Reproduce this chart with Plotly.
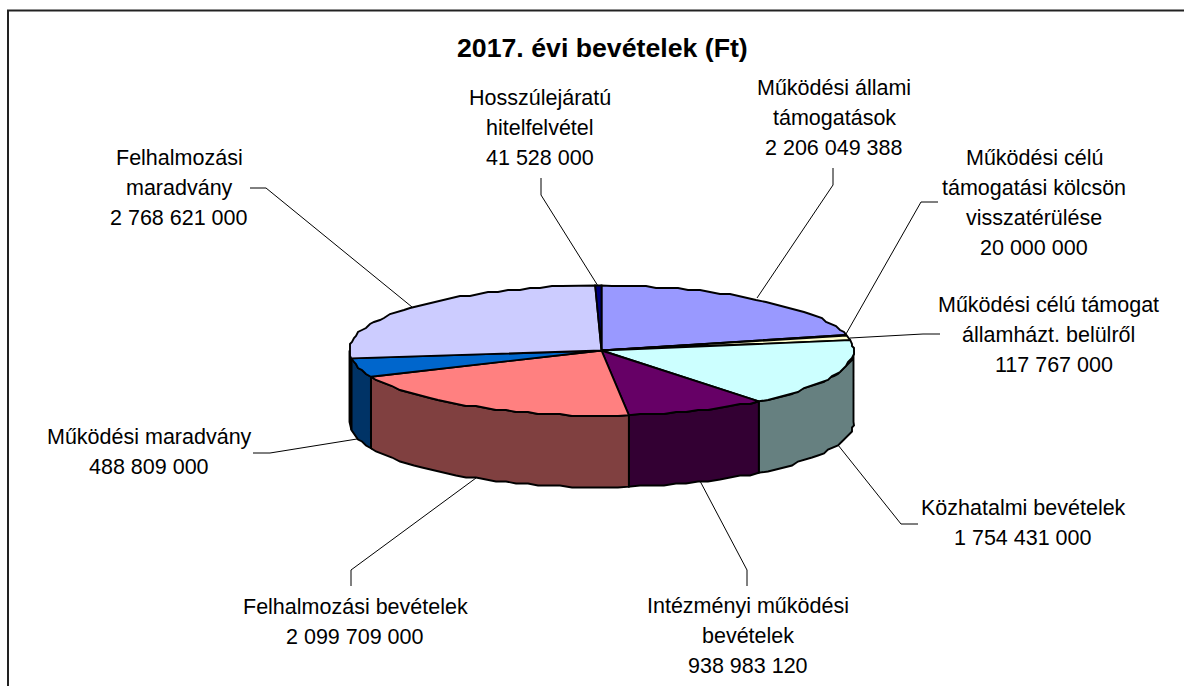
import numpy as np
import plotly.graph_objects as go

# ---------- Data ----------
LABELS = ['Működési állami támogatások', 'Működési célú támogatási kölcsön visszatérülése',
          'Működési célú támogat államházt. belülről', 'Közhatalmi bevételek',
          'Intézményi működési bevételek', 'Felhalmozási bevételek', 'Működési maradvány',
          'Felhalmozási maradvány', 'Hosszúlejáratú hitelfelvétel']
VALUES = [2206049388, 20000000, 117767000, 1754431000, 938983120,
          2099709000, 488809000, 2768621000, 41528000]
VALUE_TEXT = ['2 206 049 388', '20 000 000', '117 767 000', '1 754 431 000', '938 983 120',
              '2 099 709 000', '488 809 000', '2 768 621 000', '41 528 000']
TOP_COLORS = ['#9999FF', '#993366', '#FFFFCC', '#CCFFFF', '#660066',
              '#FF8080', '#0066CC', '#CCCCFF', '#000080']
SIDE_COLORS = ['#4D4D80', '#4D1A33', '#808066', '#668080', '#330033',
               '#804040', '#003366', '#666680', '#000040']

# ---------- Layout (page pixels) ----------
W, H = 1184, 686
CX, CY, RX, RY, DEPTH = 601.5, 350.5, 252, 65, 71.5
LINE = 1.9
SNAP = 2  # the rim in the original is visibly stair-stepped
FONT = 'Liberation Sans, Arial, sans-serif'
TEXT_SIZE = 21.5
LINE_GAP = 30

# label lines: (centre x, first line y, lines)
LABEL_TEXT = [
    (834, 87.5, ['Működési állami', 'támogatások', VALUE_TEXT[0]]),
    (1034, 157.5, ['Működési célú', 'támogatási kölcsön', 'visszatérülése', VALUE_TEXT[1]]),
    (1048, 304.5, ['Működési célú támogat', 'államházt. belülről', '  ' + VALUE_TEXT[2]]),
    (1023, 507.5, ['Közhatalmi bevételek', VALUE_TEXT[3]]),
    (748, 605.5, ['Intézményi működési', 'bevételek', VALUE_TEXT[4]]),
    (355, 606.5, ['Felhalmozási bevételek', VALUE_TEXT[5]]),
    (149, 436.5, ['Működési maradvány', VALUE_TEXT[6]]),
    (179, 157.5, ['Felhalmozási', 'maradvány', VALUE_TEXT[7]]),
    (540, 97.5, ['Hosszúlejáratú', 'hitelfelvétel', VALUE_TEXT[8]]),
]
LEADERS = [
    [(833, 168), (833, 185), (757, 298)],
    [(938, 202), (921, 202), (846, 334)],
    [(940, 334), (923, 334), (850, 338)],
    [(918, 524), (901, 524), (838, 445)],
    [(747, 586), (747, 570), (700, 481)],
    [(351, 586), (351, 570), (476, 478)],
    [(253, 453), (270, 453), (357, 439)],
    [(250, 188), (266, 188), (412, 307)],
    [(541, 178), (541, 195), (598, 286)],
]


def arc(a0, a1):
    """Points of the top ellipse between two clockwise angles (degrees from 12 o'clock)."""
    t = np.radians(np.linspace(a0, a1, max(2, int(abs(a1 - a0) / 2.5) + 1)))
    x, y = CX + RX * np.sin(t), CY - RY * np.cos(t)
    # snap the inner points only, so slice corners stay where the values put them
    x[1:-1] = np.round(x[1:-1] / SNAP) * SNAP
    y[1:-1] = np.round(y[1:-1] / SNAP) * SNAP
    return x, y


fig = go.Figure()

edges = np.concatenate([[0], np.cumsum(VALUES)]) / sum(VALUES) * 360

# side walls first, only the front half of the rim shows
for i, col in enumerate(SIDE_COLORS):
    a0, a1 = max(edges[i], 90), min(edges[i + 1], 270)
    if a1 <= a0:
        continue
    x, y = arc(a0, a1)
    fig.add_trace(go.Scatter(x=np.r_[x, x[::-1], x[0]], y=np.r_[y, y[::-1] + DEPTH, y[0]],
                             mode='lines', fill='toself', fillcolor=col,
                             line=dict(color='black', width=LINE)))

# top face slices
for i, col in enumerate(TOP_COLORS):
    x, y = arc(edges[i], edges[i + 1])
    fig.add_trace(go.Scatter(x=np.r_[CX, x, CX], y=np.r_[CY, y, CY],
                             mode='lines', fill='toself', fillcolor=col,
                             line=dict(color='black', width=LINE)))

# leader lines
for pts in LEADERS:
    fig.add_trace(go.Scatter(x=[p[0] for p in pts], y=[p[1] for p in pts], mode='lines',
                             line=dict(color='black', width=1)))

# chart frame, only top and left edges are in the crop
fig.add_trace(go.Scatter(x=[8, 8, W], y=[H, 10.5, 10.5], mode='lines',
                         line=dict(color='#222222', width=2)))

notes = [dict(x=602.5, y=48, text='<b>2017. évi bevételek (Ft)</b>', showarrow=False,
              font=dict(family=FONT, size=26.7, color='black'))]
for cx, y0, lines in LABEL_TEXT:
    for k, line in enumerate(lines):
        notes.append(dict(x=cx, y=y0 + k * LINE_GAP, text=line, showarrow=False,
                          font=dict(family=FONT, size=TEXT_SIZE, color='black')))

fig.update_layout(width=W, height=H, margin=dict(l=0, r=0, t=0, b=0),
                  paper_bgcolor='white', plot_bgcolor='white', showlegend=False,
                  xaxis=dict(range=[0, W], visible=False),
                  yaxis=dict(range=[H, 0], visible=False),
                  annotations=notes)

fig.write_html("out.html", config=dict(displayModeBar=False),
               post_script="document.body.style.margin='0';document.body.style.overflow='hidden';")
